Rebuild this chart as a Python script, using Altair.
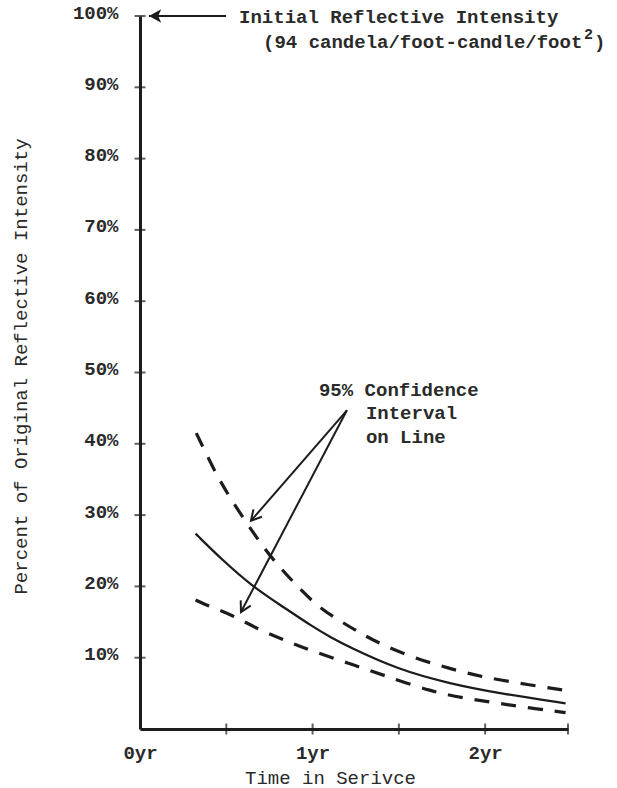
import math
import altair as alt
import pandas as pd

# ---------------- data ----------------
solid_t = [0.322, 0.477, 0.651, 0.825, 1.0, 1.11, 1.211, 1.5, 1.79, 2.08, 2.466]
solid_v = [27.4, 23.7, 20.0, 17.2, 14.35, 12.8, 11.5, 8.3, 6.4, 5.0, 3.6]

upper_t = [0.326, 0.429, 0.516, 0.632, 0.718, 0.805, 0.912, 1.037, 1.17, 1.279,
           1.404, 1.597, 1.79, 1.983, 2.177, 2.466]
upper_v = [41.5, 36.3, 32.6, 28.4, 25.4, 22.8, 20.0, 17.0, 15.0, 13.4,
           11.8, 9.9, 8.5, 7.3, 6.5, 5.4]

lower_t = [0.322, 0.38, 0.535, 0.69, 0.844, 1.0, 1.211, 1.404, 1.694, 1.887,
           2.08, 2.27, 2.466]
lower_v = [18.1, 17.4, 16.0, 13.9, 12.4, 10.9, 9.2, 7.6, 5.2, 4.3, 3.6, 2.9, 2.3]

y_ticks = [10, 20, 30, 40, 50, 60, 70, 80, 90, 100]
x_ticks = [0.5, 1.0, 1.5, 2.0, 2.48]
x_labels = [0, 1, 2]

# annotation anchors (data units)
apex = (1.199, 44.7)
tip_upper = (0.643, 29.2)
tip_lower = (0.585, 16.4)
top_tail = (0.499, 100.0)
top_tip = (0.052, 100.0)

note_text = ["Initial Reflective Intensity", "(94 candela/foot-candle/foot",
             "95% Confidence", "Interval", "on Line"]
note_x = [0.574, 0.713, 1.037, 1.309, 1.309]
note_y = [99.9, 96.4, 47.5, 44.3, 41.0]
sup_text = "2"
close_text = ")"

# ---------------- layout ----------------
W, H = 428, 713
X_MAX = 2.48
FONT = "Liberation Mono"
INK = "#1c1c1c"
TXT = "#2a2a2a"


def head_angle(tail, tip):
    dx = (tip[0] - tail[0]) / X_MAX * W
    dy = -(tip[1] - tail[1]) / 100 * H
    return math.degrees(math.atan2(-dy, -dx)) % 360


curves = pd.concat([
    pd.DataFrame({"t": solid_t, "v": solid_v, "s": "fit"}),
    pd.DataFrame({"t": upper_t, "v": upper_v, "s": "upper"}),
    pd.DataFrame({"t": lower_t, "v": lower_v, "s": "lower"}),
])

xs = alt.Scale(domain=[0, X_MAX], nice=False, zero=False)
ys = alt.Scale(domain=[0, 100], nice=False, zero=False)

x_axis = alt.Axis(values=x_labels, labelExpr="datum.value + 'yr'", ticks=False, tickSize=0,
                  grid=False, domainWidth=3, domainColor=INK, labelFont=FONT,
                  labelFontSize=19, labelFontWeight="bold", labelColor=TXT,
                  labelPadding=14, labelFlush=False, title="Time in Serivce",
                  titleFont=FONT, titleFontSize=19, titleFontWeight="normal",
                  titleColor=TXT, titleX=190, titleY=48, titleAlign="center",
                  titleBaseline="middle")
y_axis = alt.Axis(values=y_ticks, labelExpr="datum.value + '%'", ticks=False, tickSize=0,
                  grid=False, domainWidth=3, domainColor=INK, labelFont=FONT,
                  labelFontSize=19, labelFontWeight="bold", labelColor=TXT,
                  labelPadding=22, labelOffset=-4, labelFlush=False,
                  title="Percent of Original Reflective Intensity",
                  titleFont=FONT, titleFontSize=19, titleFontWeight="normal",
                  titleColor=TXT, titleX=-120, titleY=350, titleAngle=270,
                  titleAlign="center", titleBaseline="middle")

base = alt.Chart(curves)

fit = base.transform_filter("datum.s == 'fit'").mark_line(
    color=INK, strokeWidth=2.3, interpolate="basis"
).encode(x=alt.X("t:Q", scale=xs, axis=x_axis), y=alt.Y("v:Q", scale=ys, axis=y_axis))

bands = base.transform_filter("datum.s != 'fit'").mark_line(
    color=INK, strokeWidth=3.2, strokeDash=[15, 12], interpolate="basis"
).encode(x=alt.X("t:Q", scale=xs), y=alt.Y("v:Q", scale=ys), detail="s:N")

ytick_layer = alt.Chart(pd.DataFrame({"v": y_ticks, "t": [0] * len(y_ticks)})).mark_tick(
    orient="horizontal", size=11, thickness=2, color=INK
).encode(x=alt.X("t:Q", scale=xs), y=alt.Y("v:Q", scale=ys))

xtick_layer = alt.Chart(pd.DataFrame({"t": x_ticks, "v": [0] * len(x_ticks)})).mark_tick(
    orient="vertical", size=11, thickness=2, color=INK
).encode(x=alt.X("t:Q", scale=xs), y=alt.Y("v:Q", scale=ys))

arrows = pd.DataFrame({
    "x": [apex[0], apex[0], top_tail[0]],
    "y": [apex[1], apex[1], top_tail[1]],
    "x2": [tip_upper[0], tip_lower[0], top_tip[0]],
    "y2": [tip_upper[1], tip_lower[1], top_tip[1]],
})
arrow_lines = alt.Chart(arrows).mark_rule(color=INK, strokeWidth=2).encode(
    x=alt.X("x:Q", scale=xs), y=alt.Y("y:Q", scale=ys), x2="x2:Q", y2="y2:Q"
)

ci_heads = pd.DataFrame({
    "x": [tip_upper[0], tip_lower[0]],
    "y": [tip_upper[1], tip_lower[1]],
    "a": [head_angle(apex, tip_upper), head_angle(apex, tip_lower)],
})
ci_head_layer = alt.Chart(ci_heads).mark_point(
    shape="M1,-0.55L0,0L1,0.55", filled=False, size=420, strokeWidth=2, color=INK, opacity=1
).encode(x=alt.X("x:Q", scale=xs), y=alt.Y("y:Q", scale=ys), angle=alt.Angle("a:Q", scale=None))

top_head = pd.DataFrame({"x": [top_tip[0]], "y": [top_tip[1]], "a": [head_angle(top_tail, top_tip)]})
top_head_layer = alt.Chart(top_head).mark_point(
    shape="M0,0L1,-0.55L0.75,0L1,0.55Z", filled=True, size=600, color=INK, opacity=1
).encode(x=alt.X("x:Q", scale=xs), y=alt.Y("y:Q", scale=ys), angle=alt.Angle("a:Q", scale=None))

notes = pd.DataFrame({"x": note_x, "y": note_y, "text": note_text})
note_layer = alt.Chart(notes).mark_text(
    font=FONT, fontSize=19, fontWeight="bold", align="left", baseline="middle", color=TXT
).encode(x=alt.X("x:Q", scale=xs), y=alt.Y("y:Q", scale=ys), text="text:N")

# superscript "2" and closing parenthesis after the second header line
tail_df = pd.DataFrame({"x": [note_x[1]], "y": [note_y[1]], "sup": [sup_text], "cl": [close_text]})
sup_layer = alt.Chart(tail_df).mark_text(
    font=FONT, fontSize=15, fontWeight="bold", align="left", baseline="middle", color=TXT,
    dx=321, dy=-8
).encode(x=alt.X("x:Q", scale=xs), y=alt.Y("y:Q", scale=ys), text="sup:N")
close_layer = alt.Chart(tail_df).mark_text(
    font=FONT, fontSize=19, fontWeight="bold", align="left", baseline="middle", color=TXT,
    dx=331
).encode(x=alt.X("x:Q", scale=xs), y=alt.Y("y:Q", scale=ys), text="cl:N")

chart = alt.layer(
    fit, bands, ytick_layer, xtick_layer, arrow_lines, ci_head_layer, top_head_layer,
    note_layer, sup_layer, close_layer
).properties(
    width=W, height=H,
    padding={"left": 140, "top": 16, "right": 617 - 140 - W, "bottom": 788 - 16 - H},
    autosize=alt.AutoSizeParams(type="none"),
    background="white",
).configure_view(stroke=None)

chart.save("out.html", embed_options={"renderer": "svg", "actions": False})
